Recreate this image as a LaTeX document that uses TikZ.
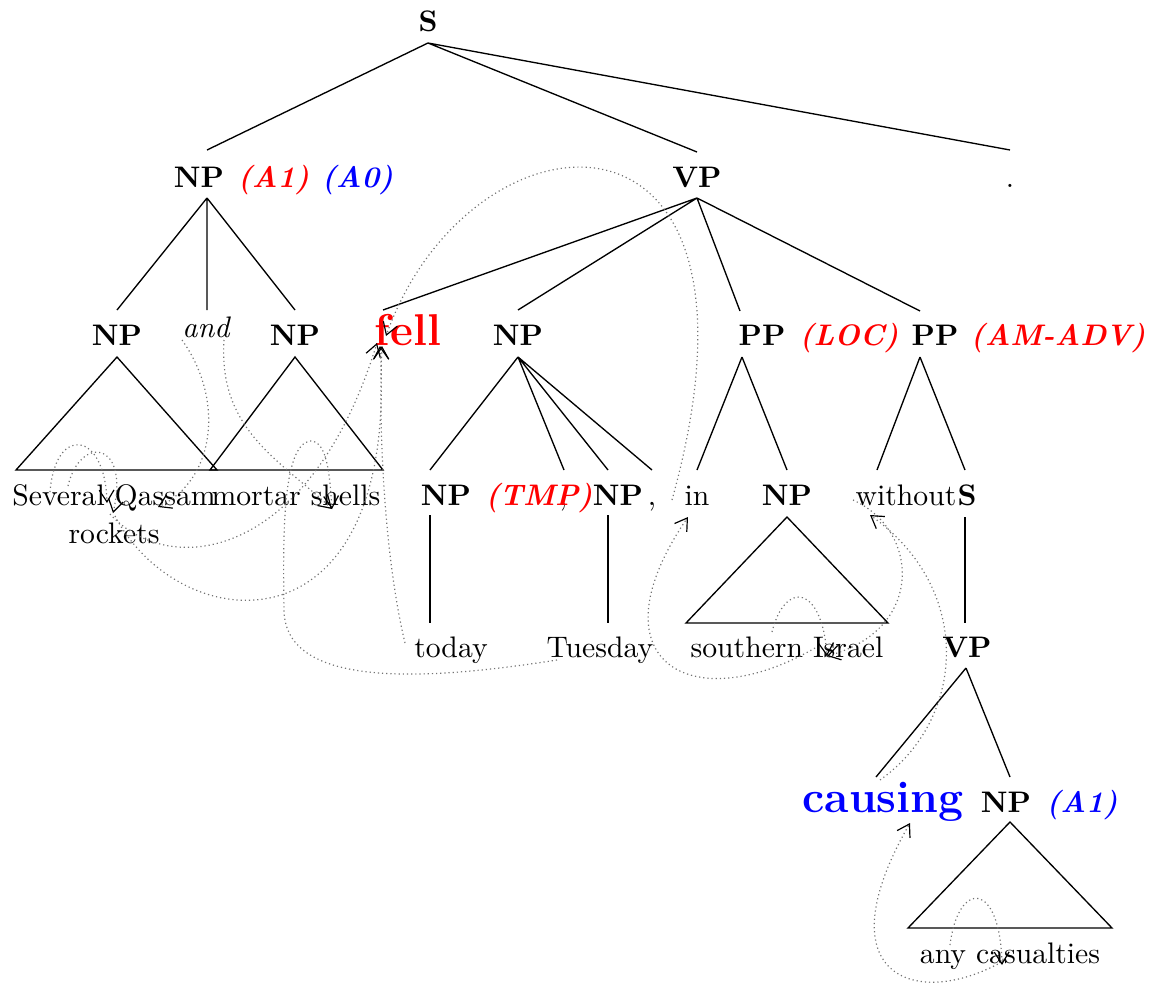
\documentclass[tikz,border=0pt]{standalone}
\usetikzlibrary{arrows.meta}
\begin{document}
\begin{tikzpicture}[x=0.3367pt,y=-0.3367pt,
  every node/.style={inner sep=0pt,anchor=base},
  cat/.style={font=\bfseries},
  lex/.style={},
  role/.style={font=\bfseries\itshape},
  pred/.style={font=\fontsize{15}{18}\selectfont\bfseries},
  branch/.style={black,line width=0.45pt},
  dep/.style={black!55,densely dotted,line width=0.4pt,
    -{Straight Barb[length=4pt,width=5pt,color=black,line width=0.4pt]}},
]
\useasboundingbox (0,0) rectangle (1161,983);

% ---------- labels and words ----------
\node[cat] (S) at (428,32) {S};
\node[cat] (NP1) at (199,187) {NP};
\node[role,red] (A1a) at (273.5,187) {(A1)};
\node[role,blue] (A0) at (357.5,187) {(A0)};
\node[cat] (VP) at (697,187) {VP};
\node[lex] (dot) at (1010,187) {.};

\node[cat] (NPa) at (117,345) {NP};
\node[lex,font=\itshape] (and) at (206,337) {and};
\node[cat] (NPb) at (295,345) {NP};
\node[pred,red] (fell) at (408,345) {fell};
\node[cat] (NPc) at (518,345) {NP};
\node[cat] (PP1) at (762,345) {PP};
\node[role,red] (LOC) at (849,345) {(LOC)};
\node[cat] (PP2) at (935,345) {PP};
\node[role,red] (ADV) at (1058,345) {(AM-ADV)};

\node[lex,align=center,anchor=north] (rockets) at (114,484.4) {Several Qassam\\[0.8pt]rockets};
\node[lex] (shells) at (296,505) {mortar shells};
\node[cat] (NPd) at (446,505) {NP};
\node[lex] (comA) at (563,505) {,};
\node[role,red] (TMP) at (539,505) {(TMP)};
\node[cat] (NPe) at (618,505) {NP};
\node[lex] (comB) at (652,505) {,};
\node[lex] (in) at (697,505) {in};
\node[cat] (NPf) at (787,505) {NP};
\node[lex] (without) at (906,505) {without};
\node[cat] (S2) at (967,505) {S};

\node[lex] (today) at (451,657) {today};
\node[lex] (tuesday) at (600,657) {Tuesday};
\node[lex] (israel) at (787,657) {southern Israel};
\node[cat] (VP2) at (967,657) {VP};

\node[pred,blue] (causing) at (883,812) {causing};
\node[cat] (NPg) at (1006,812) {NP};
\node[role,blue] (A1b) at (1082,812) {(A1)};

\node[lex] (casualties) at (1010,963) {any casualties};

% ---------- branch end points ----------
\coordinate (S-b) at (428,43);
\coordinate (NP1-t) at (207,150);  \coordinate (NP1-b) at (207,198);
\coordinate (VP-t) at (697,152);   \coordinate (VP-b) at (697,198);
\coordinate (dot-t) at (1010,150);
\coordinate (NPa-t) at (117,310);  \coordinate (NPa-b) at (117,357);
\coordinate (and-t) at (207,310);
\coordinate (NPb-t) at (295,310);  \coordinate (NPb-b) at (295,357);
\coordinate (fell-t) at (383,310);
\coordinate (NPc-t) at (518,310);  \coordinate (NPc-b) at (518,357);
\coordinate (PP1-t) at (740,311);  \coordinate (PP1-b) at (742,357);
\coordinate (PP2-t) at (920,311);  \coordinate (PP2-b) at (920,357);
\coordinate (NPa-l) at (16,470);   \coordinate (NPa-r) at (217,470);
\coordinate (NPb-l) at (210,470);  \coordinate (NPb-r) at (383,470);
\coordinate (NPd-t) at (430,470);  \coordinate (NPd-b) at (430,515);
\coordinate (comA-t) at (564,470);
\coordinate (NPe-t) at (608,470);  \coordinate (NPe-b) at (608,515);
\coordinate (comB-t) at (652,470);
\coordinate (in-t) at (697,470);
\coordinate (NPf-t) at (787,470);  \coordinate (NPf-b) at (787,517);
\coordinate (without-t) at (877,470);
\coordinate (S2-t) at (965,470);   \coordinate (S2-b) at (965,517);
\coordinate (today-t) at (430,623);
\coordinate (tuesday-t) at (608,623);
\coordinate (NPf-l) at (686,623);  \coordinate (NPf-r) at (888,623);
\coordinate (VP2-t) at (965,623);  \coordinate (VP2-b) at (966,668);
\coordinate (causing-t) at (876,777);
\coordinate (NPg-t) at (1010,777); \coordinate (NPg-b) at (1010,822);
\coordinate (NPg-l) at (908,928);  \coordinate (NPg-r) at (1112,928);

% ---------- tree branches ----------
\draw[branch] (S-b) -- (NP1-t) (S-b) -- (VP-t) (S-b) -- (dot-t);
\draw[branch] (NP1-b) -- (NPa-t) (NP1-b) -- (and-t) (NP1-b) -- (NPb-t);
\draw[branch] (VP-b) -- (fell-t) (VP-b) -- (NPc-t) (VP-b) -- (PP1-t) (VP-b) -- (PP2-t);
\draw[branch] (NPa-b) -- (NPa-l) -- (NPa-r) -- cycle;
\draw[branch] (NPb-b) -- (NPb-l) -- (NPb-r) -- cycle;
\draw[branch] (NPc-b) -- (NPd-t) (NPc-b) -- (comA-t) (NPc-b) -- (NPe-t) (NPc-b) -- (comB-t);
\draw[branch] (PP1-b) -- (in-t) (PP1-b) -- (NPf-t);
\draw[branch] (PP2-b) -- (without-t) (PP2-b) -- (S2-t);
\draw[branch] (NPd-b) -- (today-t);
\draw[branch] (NPe-b) -- (tuesday-t);
\draw[branch] (NPf-b) -- (NPf-l) -- (NPf-r) -- cycle;
\draw[branch] (S2-b) -- (VP2-t);
\draw[branch] (VP2-b) -- (causing-t) (VP2-b) -- (NPg-t);
\draw[branch] (NPg-b) -- (NPg-l) -- (NPg-r) -- cycle;

% ---------- dependency arcs ----------
\coordinate (d-several) at (50,492);   \coordinate (d-qassam) at (68,486);
\coordinate (h-rockA) at (107,503);    \coordinate (h-rockB) at (113,513);
\coordinate (d-andL) at (182,340);     \coordinate (h-rockC) at (158,507);
\coordinate (d-andR) at (224,340);     \coordinate (h-shells) at (332,509);
\coordinate (d-tuesday) at (557,660);
\coordinate (d-rockA) at (110,514);    \coordinate (d-rockB) at (115,516);
\coordinate (h-fellA) at (377,343);    \coordinate (h-fellB) at (380,346);
\coordinate (d-today) at (405,643);    \coordinate (h-fellC) at (382,346);
\coordinate (d-in) at (672,500);       \coordinate (h-fellD) at (386,336);
\coordinate (d-israel) at (815,648);   \coordinate (h-in) at (688,517);
\coordinate (d-southern) at (772,632); \coordinate (h-israel) at (827,656);
\coordinate (d-without) at (853,500);
\coordinate (d-causing) at (880,780);  \coordinate (h-without) at (870,515);
\coordinate (d-casualties) at (1005,960); \coordinate (h-causing) at (910,823);
\coordinate (d-any) at (950,945);      \coordinate (h-casualties) at (1002,965);

\draw[dep] (d-several) .. controls (55,425) and (105,430) .. (h-rockA);
\draw[dep] (d-qassam) .. controls (80,435) and (130,440) .. (h-rockB);
\draw[dep] (d-andL) .. controls (225,400) and (215,480) .. (h-rockC);
\draw[dep] (d-andR) .. controls (218,430) and (280,460) .. (h-shells);
\draw[dep] (d-tuesday) .. controls (430,680) and (285,690) .. (284,610)
  .. controls (283,540) and (282,445) .. (310,441)
  .. controls (328,440) and (330,480) .. (h-shells);
\draw[dep] (d-rockA) .. controls (170,580) and (310,560) .. (h-fellA);
\draw[dep] (d-rockB) .. controls (180,640) and (400,660) .. (h-fellB);
\draw[dep] (d-today) .. controls (385,560) and (378,430) .. (h-fellC);
\draw[dep] (d-in) .. controls (790,75) and (470,100) .. (h-fellD);
\draw[dep] (d-israel) .. controls (690,720) and (590,660) .. (h-in);
\draw[dep] (d-southern) .. controls (785,580) and (822,585) .. (h-israel);
\draw[dep] (d-without) .. controls (920,530) and (925,630) .. (h-israel);
\draw[dep] (d-causing) .. controls (965,720) and (975,590) .. (h-without);
\draw[dep] (d-casualties) .. controls (920,1010) and (820,980) .. (h-causing);
\draw[dep] (d-any) .. controls (958,880) and (1000,880) .. (h-casualties);
\end{tikzpicture}
\end{document}
